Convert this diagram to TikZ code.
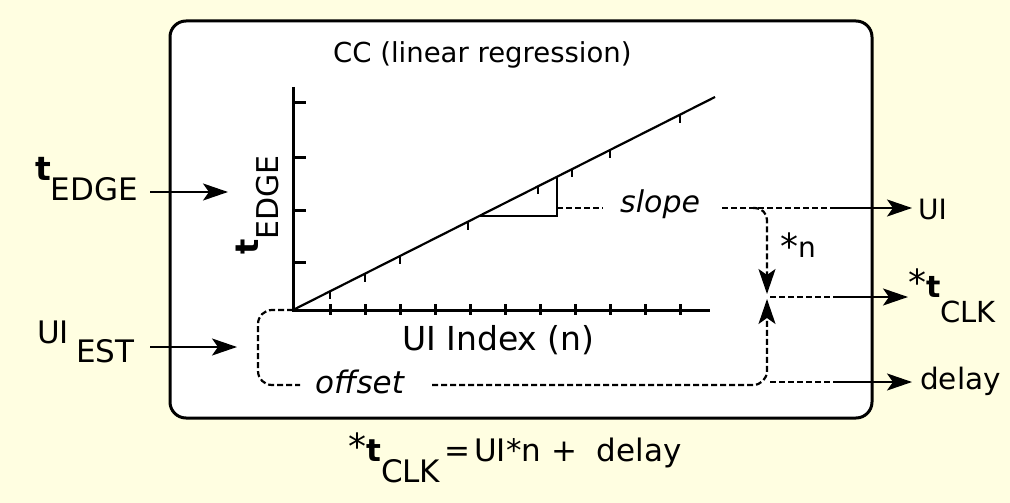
\documentclass[tikz,border=0pt]{standalone}
\usepackage{fontspec}
\setmainfont{DejaVu Sans}
\usetikzlibrary{arrows.meta}
\definecolor{bgy}{RGB}{255,254,225}
\newcommand{\bigast}{{\fontsize{36}{36}\selectfont *}}
\begin{document}
\begin{tikzpicture}[x=1pt,y=-1pt,
  lbl/.style={inner sep=0pt, font=\fontsize{30}{30}\selectfont},
  rlbl/.style={inner sep=0pt, font=\fontsize{28}{28}\selectfont},
  arr/.style={line width=2.2pt, -{Stealth[length=25pt,width=17pt,inset=6pt]}},
  dsh/.style={line width=2.2pt, dash pattern=on 6pt off 3pt},
  ax/.style={line width=3pt}]
\fill[bgy] (0,0) rectangle (1010,503);
\useasboundingbox (0,0) rectangle (1010,503);
% main box
\node[draw, line width=3pt, fill=white, rounded corners=16pt, inner sep=0pt,
      minimum width=702pt, minimum height=397pt] (cc) at (521,219.5) {};
\node[lbl, font=\fontsize{27.5}{27.5}\selectfont, anchor=base west] (title) at (333,63) {CC (linear regression)};
% axes
\coordinate (O) at (293,310);
\coordinate (Ytop) at (293,87);
\coordinate (Xend) at (710,310);
\coordinate (Lend) at (715,97);
\draw[ax] (Ytop) -- (O) -- (Xend);
\foreach \y in {103,157,210,262} \draw[ax] (293,\y) -- (306,\y);
\foreach \x in {330,365,...,680} \draw[ax] (\x,304) -- (\x,315);
\draw[line width=2.2pt] (O) -- (Lend);
\foreach \x in {330,365,400,468,538,572,610,680}
  \draw[line width=2.2pt] (\x,{310-0.5047*(\x-293)}) -- ++(0,8);
% slope triangle
\coordinate (triA) at (479,216);
\coordinate (triB) at (557,216);
\coordinate (triC) at (557,176.7);
\draw[line width=2.4pt] (triA) -- (triB) -- (triC);
\node[inner sep=0pt, rotate=90, anchor=base west] (ylab) at (258,255)
  {{\fontsize{32}{32}\selectfont\bfseries t}\raisebox{-20pt}{\fontsize{30}{30}\selectfont EDGE}};
\node[lbl, font=\fontsize{33}{33}\selectfont, anchor=base west] (xlab) at (402,350) {UI Index (n)};
% slope
\coordinate (tri) at (557,208);
\coordinate (triE) at (603,208);
\draw[dsh] (tri) -- (triE);
\node[lbl, font=\fontsize{30}{30}\selectfont\itshape, anchor=base west] (slope) at (620,212) {slope};
\coordinate (sR) at (722,208);
\coordinate (uiA) at (833,208);
\node[rlbl, anchor=base west] (ui) at (918,219) {UI};
\draw[dsh] (sR) -- (uiA);
\draw[arr, shorten >=6pt] (uiA) -- (ui.west |- uiA);
\coordinate (brS) at (753,208);
\coordinate (mid) at (767,294);
\draw[dsh, arr, rounded corners=12pt] (brS) -| (mid);
\node[rlbl, anchor=base west] (starn) at (780,257) {\raisebox{-2pt}{\bigast}n};
% offset
\coordinate (offL) at (300,385);
\node[lbl, font=\fontsize{31}{31}\selectfont\itshape, anchor=base west] (offset) at (315,393) {offset};
\draw[dsh, rounded corners=14pt] (O) -| (258,385) -- (offL);
\coordinate (offR) at (432,385);
\coordinate (mid2) at (767,299);
\draw[dsh, arr, rounded corners=14pt] (offR) -| (mid2);
% t_CLK output
\coordinate (cS) at (770,297);
\coordinate (cA) at (833,297);
\node[inner sep=0pt, anchor=base west] (tclk) at (908,297)
  {\fontsize{29}{29}\selectfont\raisebox{2pt}{\bigast}{\fontsize{30}{30}\selectfont\bfseries t}\raisebox{-25pt}{CLK}};
\draw[dsh] (cS) -- (cA);
\draw[arr] (cA) -- (tclk.west |- cA);
% delay output
\coordinate (dS) at (770,382);
\coordinate (dA) at (833,382);
\node[rlbl, font=\fontsize{29.5}{29.5}\selectfont, anchor=base west] (delay) at (920,389) {delay};
\draw[dsh] (dS) -- (dA);
\draw[arr, shorten >=8pt] (dA) -- (delay.west |- dA);
% inputs
\node[inner sep=0pt, anchor=base west] (tedge) at (35,180)
  {{\fontsize{33}{33}\selectfont\bfseries t}\raisebox{-20pt}{\fontsize{31}{31}\selectfont EDGE}};
\coordinate (tEs) at (150,192);
\coordinate (tEa) at (228,192);
\draw[arr] (tEs) -- (tEa);
\node[lbl, font=\fontsize{31}{31}\selectfont, anchor=base west] (uiest) at (37,343) {UI\kern7pt\raisebox{-19pt}{EST}};
\coordinate (uEs) at (150,347);
\coordinate (uEa) at (237,347);
\draw[arr] (uEs) -- (uEa);
% formula
\node[lbl, font=\fontsize{31}{31}\selectfont, anchor=base west] (formula) at (348,461)
  {\raisebox{2pt}{\bigast}{\bfseries t}\raisebox{-21pt}{CLK}\kern4pt=\kern4pt UI*n + \ delay};
\end{tikzpicture}
\end{document}
